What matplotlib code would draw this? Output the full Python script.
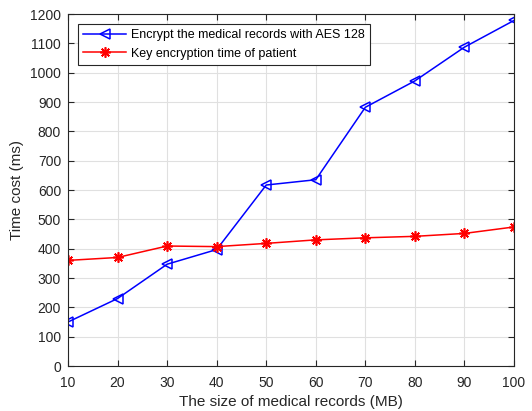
import matplotlib
matplotlib.use('Agg')
import matplotlib.pyplot as plt

plt.rcParams['font.family'] = ['Liberation Sans', 'DejaVu Sans']

sizes = [10, 20, 30, 40, 50, 60, 70, 80, 90, 100]
aes_time = [150, 230, 347, 397, 617, 635, 882, 972, 1087, 1178]
key_time = [360, 370, 409, 407, 418, 430, 437, 442, 452, 474]

fig = plt.figure(figsize=(5.32, 4.11), dpi=100)
ax = fig.add_axes([68 / 532, 45 / 411, 446 / 532, 352 / 411])

ax.plot(sizes, aes_time, color='blue', lw=1.1, marker='<', ms=7.5,
        mfc='none', mew=1.1, label='Encrypt the medical records with AES 128')
# MATLAB-style asterisk: 8 spokes
ax.plot(sizes, key_time, color='red', lw=1.1, marker=(8, 2, 0), ms=7.5,
        mew=1.2, label='Key encryption time of patient')

ax.set_xlim(10, 100)
ax.set_ylim(0, 1200)
ax.set_xticks(range(10, 101, 10))
ax.set_yticks(range(0, 1201, 100))
ax.grid(True, color='#e0e0e0', lw=0.8)
ax.set_axisbelow(True)
ax.tick_params(direction='in', top=True, right=True, labelsize=10,
               colors='#262626', length=4)
ax.tick_params(axis='x', pad=7)
ax.tick_params(axis='y', pad=5)
for s in ax.spines.values():
    s.set_color('#262626')
    s.set_linewidth(0.8)

ax.set_xlabel('The size of medical records (MB)', fontsize=11, color='#262626')
ax.set_ylabel('Time cost (ms)', fontsize=11, color='#262626')

leg = ax.legend(loc='upper left', bbox_to_anchor=(0.012, 0.985), fontsize=9,
                fancybox=False, edgecolor='#262626', framealpha=1,
                handlelength=3.4, handletextpad=0.4, borderaxespad=0.4)
leg.get_frame().set_linewidth(0.8)

plt.savefig('out.png', dpi=100)
